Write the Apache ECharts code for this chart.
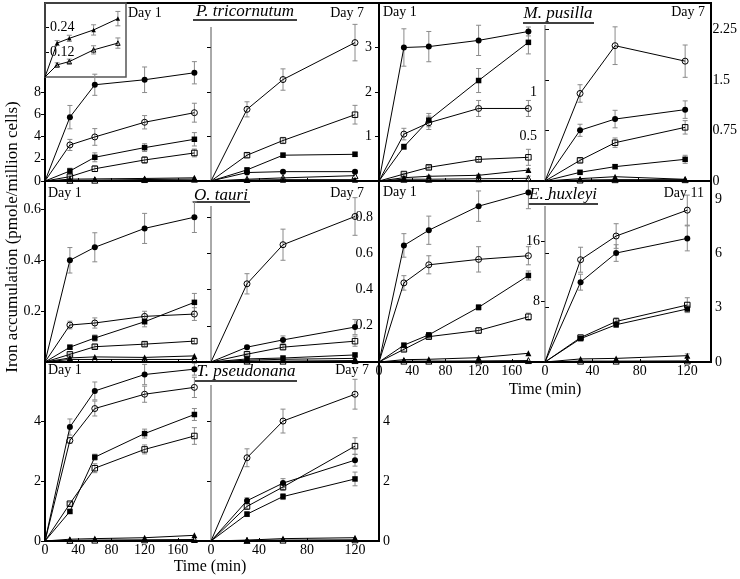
<!DOCTYPE html>
<html><head><meta charset="utf-8">
<script src="https://cdn.jsdelivr.net/npm/echarts@6/dist/echarts.min.js"></script>
<style>html,body{margin:0;padding:0;background:#fff}#c{width:740px;height:579px}</style>
</head><body><div id="c"></div>
<script>
// ---------------- DATA ----------------
const T_DAY1 = [0, 30, 60, 120, 180];   // min, Day 1 panels
const T_LATE = [0, 30, 60, 120];        // min, Day 7 / Day 11 panels

// P. tricornutum – Day 1
const PT1_FC = [0, 5.74, 8.65, 9.10, 9.73], PT1_FC_SD = [0, 1.05, 0.95, 1.15, 1.0];
const PT1_OC = [0, 3.24, 3.96, 5.28, 6.14], PT1_OC_SD = [0, 0.5, 0.75, 0.6, 0.85];
const PT1_FS = [0, 0.90, 2.13, 3.00, 3.75], PT1_FS_SD = [0, 0.25, 0.4, 0.35, 0.6];
const PT1_OS = [0, 0.39, 1.10, 1.89, 2.52], PT1_OS_SD = [0, 0.15, 0.25, 0.3, 0.35];
const PT1_FT = [0, 0.165, 0.188, 0.229, 0.284], PT1_FT_SD = [0, 0.012, 0.015, 0.025, 0.035];
const PT1_OT = [0, 0.059, 0.075, 0.132, 0.165], PT1_OT_SD = [0, 0.01, 0.012, 0.02, 0.025];
// P. tricornutum – Day 7
const PT7_OC = [0, 1.61, 2.28, 3.11], PT7_OC_SD = [0, 0.17, 0.24, 0.41];
const PT7_OS = [0, 0.58, 0.91, 1.49], PT7_OS_SD = [0, 0.05, 0.07, 0.21];
const PT7_FS = [0, 0.25, 0.58, 0.60], PT7_FS_SD = [0, 0.03, 0.05, 0.05];
const PT7_FC = [0, 0.19, 0.21, 0.21], PT7_FC_SD = [0, 0.02, 0.02, 0.03];
const PT7_OT = [0, 0.04, 0.07, 0.12], PT7_OT_SD = [0, 0, 0, 0];
const PT7_FT = [0, 0.02, 0.03, 0.03], PT7_FT_SD = [0, 0, 0, 0];

// M. pusilla – Day 1
const MP1_FC = [0, 1.50, 1.51, 1.58, 1.68], MP1_FC_SD = [0, 0.21, 0.17, 0.17, 0.05];
const MP1_FS = [0, 0.385, 0.684, 1.129, 1.558], MP1_FS_SD = [0, 0.03, 0.075, 0.135, 0.13];
const MP1_OC = [0, 0.527, 0.654, 0.815, 0.815], MP1_OC_SD = [0, 0.065, 0.075, 0.09, 0.09];
const MP1_OS = [0, 0.078, 0.153, 0.243, 0.266], MP1_OS_SD = [0, 0.01, 0.02, 0.03, 0.09];
const MP1_FT = [0, 0.037, 0.053, 0.064, 0.123], MP1_FT_SD = [0, 0.01, 0.01, 0.01, 0.015];
const MP1_OT = [0, 0.02, 0.02, 0.025, 0.03], MP1_OT_SD = [0, 0, 0, 0, 0];
// M. pusilla – Day 7
const MP7_OC = [0, 1.30, 2.01, 1.78], MP7_OC_SD = [0, 0.13, 0.28, 0.24];
const MP7_FC = [0, 0.753, 0.92, 1.06], MP7_FC_SD = [0, 0.09, 0.13, 0.13];
const MP7_OS = [0, 0.307, 0.569, 0.797], MP7_OS_SD = [0, 0.03, 0.07, 0.1];
const MP7_FS = [0, 0.129, 0.213, 0.322], MP7_FS_SD = [0, 0.02, 0.03, 0.06];
const MP7_FT = [0, 0.035, 0.064, 0.025], MP7_FT_SD = [0, 0, 0, 0];
const MP7_OT = [0, 0.015, 0.02, 0.02], MP7_OT_SD = [0, 0, 0, 0];

// O. tauri – Day 1
const OT1_FC = [0, 0.399, 0.45, 0.524, 0.568], OT1_FC_SD = [0, 0.05, 0.057, 0.059, 0.06];
const OT1_OC = [0, 0.145, 0.153, 0.179, 0.188], OT1_OC_SD = [0, 0.015, 0.02, 0.02, 0.025];
const OT1_FS = [0, 0.058, 0.094, 0.158, 0.234], OT1_FS_SD = [0, 0.008, 0.012, 0.02, 0.035];
const OT1_OS = [0, 0.03, 0.06, 0.07, 0.082], OT1_OS_SD = [0, 0.005, 0.008, 0.008, 0.01];
const OT1_FT = [0, 0.016, 0.02, 0.018, 0.024], OT1_FT_SD = [0, 0, 0, 0, 0];
const OT1_OT = [0, 0.01, 0.01, 0.01, 0.01], OT1_OT_SD = [0, 0, 0, 0, 0];
// O. tauri – Day 7
const OT7_OC = [0, 0.432, 0.648, 0.804], OT7_OC_SD = [0, 0.056, 0.086, 0.104];
const OT7_FC = [0, 0.082, 0.122, 0.193], OT7_FC_SD = [0, 0.01, 0.022, 0.042];
const OT7_OS = [0, 0.043, 0.082, 0.115], OT7_OS_SD = [0, 0.006, 0.012, 0.028];
const OT7_FS = [0, 0.017, 0.022, 0.039], OT7_FS_SD = [0, 0.003, 0.004, 0.01];
const OT7_FT = [0, 0.01, 0.015, 0.02], OT7_FT_SD = [0, 0, 0, 0];
const OT7_OT = [0, 0.005, 0.005, 0.008], OT7_OT_SD = [0, 0, 0, 0];

// E. huxleyi – Day 1
const EH1_FC = [0, 0.644, 0.728, 0.861, 0.937], EH1_FC_SD = [0, 0.065, 0.078, 0.084, 0.09];
const EH1_OC = [0, 0.437, 0.537, 0.567, 0.587], EH1_OC_SD = [0, 0.04, 0.05, 0.07, 0.05];
const EH1_FS = [0, 0.093, 0.15, 0.302, 0.478], EH1_FS_SD = [0, 0.01, 0.01, 0.015, 0.025];
const EH1_OS = [0, 0.07, 0.14, 0.174, 0.25], EH1_OS_SD = [0, 0.01, 0.01, 0.015, 0.02];
const EH1_FT = [0, 0.013, 0.015, 0.024, 0.048], EH1_FT_SD = [0, 0, 0, 0, 0];
const EH1_OT = [0, 0.005, 0.005, 0.006, 0.008], EH1_OT_SD = [0, 0, 0, 0, 0];
// E. huxleyi – Day 11
const EH11_OC = [0, 5.65, 6.96, 8.39], EH11_OC_SD = [0, 0.69, 0.68, 0.83];
const EH11_FC = [0, 4.41, 6.02, 6.83], EH11_FC_SD = [0, 0.44, 0.46, 0.69];
const EH11_OS = [0, 1.35, 2.24, 3.15], EH11_OS_SD = [0, 0.1, 0.2, 0.4];
const EH11_FS = [0, 1.29, 2.06, 2.93], EH11_FS_SD = [0, 0.1, 0.15, 0.2];
const EH11_FT = [0, 0.17, 0.2, 0.35], EH11_FT_SD = [0, 0, 0, 0.1];
const EH11_OT = [0, 0.05, 0.05, 0.06], EH11_OT_SD = [0, 0, 0, 0];

// T. pseudonana – Day 1
const TP1_FC = [0, 3.82, 5.03, 5.58, 5.76], TP1_FC_SD = [0, 0.27, 0.3, 0.34, 0.2];
const TP1_OC = [0, 3.37, 4.44, 4.92, 5.15], TP1_OC_SD = [0, 0.1, 0.25, 0.27, 0.34];
const TP1_FS = [0, 0.99, 2.81, 3.60, 4.24], TP1_FS_SD = [0, 0.05, 0.1, 0.15, 0.2];
const TP1_OS = [0, 1.25, 2.44, 3.07, 3.52], TP1_OS_SD = [0, 0.05, 0.15, 0.15, 0.28];
const TP1_FT = [0, 0.06, 0.08, 0.11, 0.19], TP1_FT_SD = [0, 0, 0, 0, 0];
const TP1_OT = [0, 0.02, 0.03, 0.04, 0.05], TP1_OT_SD = [0, 0, 0, 0, 0];
// T. pseudonana – Day 7
const TP7_OC = [0, 2.79, 4.02, 4.92], TP7_OC_SD = [0, 0.3, 0.4, 0.5];
const TP7_OS = [0, 1.16, 1.81, 3.18], TP7_OS_SD = [0, 0.1, 0.12, 0.28];
const TP7_FC = [0, 1.35, 1.94, 2.71], TP7_FC_SD = [0, 0.1, 0.15, 0.2];
const TP7_FS = [0, 0.90, 1.49, 2.08], TP7_FS_SD = [0, 0.08, 0.1, 0.23];
const TP7_FT = [0, 0.03, 0.08, 0.11], TP7_FT_SD = [0, 0, 0, 0];
const TP7_OT = [0, 0.02, 0.03, 0.04], TP7_OT_SD = [0, 0, 0, 0];

// Tick labels
const A1_Y_TICKS = [0, 2, 4, 6, 8];
const INSET_Y_TICKS = [0.12, 0.24];
const A7_Y_TICKS = [1, 2, 3];
const B1_Y_TICKS = [0.5, 1];
const B1_Y_MARKS = [0.5, 1, 1.5];
const B7_Y_TICKS = [0, 0.75, 1.5, 2.25];
const C1_Y_TICKS = [0.2, 0.4, 0.6];
const C7_Y_TICKS = [0.2, 0.4, 0.6, 0.8];
const E1_Y_TICKS = [8, 16];
const E11_Y_TICKS = [0, 3, 6, 9];
const D1_Y_TICKS = [0, 2, 4];
const D7_Y_TICKS = [0, 2, 4];
const X_TICKS_DAY1 = [0, 40, 80, 120, 160];
const X_TICKS_LATE = [0, 40, 80, 120];

const SPECIES = ['P. tricornutum', 'M. pusilla', 'O. tauri', 'E. huxleyi', 'T. pseudonana'];
const Y_TITLE = 'Iron accumulation (pmole/million cells)';
const X_TITLE = 'Time (min)';

// ---------------- LAYOUT ----------------
const FONT = 'Liberation Serif';
const X0 = 45, XA = 211, XM = 379, XB = 545, XR = 711;
const Y0 = 3, Y1 = 181, Y2 = 362, Y3 = 541;

const S = (k, v, e) => ({k, v, e});
const PANELS = [
  {box:[X0,Y0,XA,Y1], t:T_DAY1, xMax:200, yMax:16,
   y:{pos:'left', inside:false, labels:A1_Y_TICKS, marks:A1_Y_TICKS, margin:4, tickIn:false},
   s:[S('FC',PT1_FC,PT1_FC_SD),S('OC',PT1_OC,PT1_OC_SD),S('FS',PT1_FS,PT1_FS_SD),S('OS',PT1_OS,PT1_OS_SD),S('FT',PT1_FT,null),S('OT',PT1_OT,null)]},
  {box:[XA,Y0,XM,Y1], t:T_LATE, xMax:140, yMax:4,
   y:{pos:'right', inside:true, labels:A7_Y_TICKS, marks:A7_Y_TICKS, margin:7, tickIn:true},
   s:[S('OC',PT7_OC,PT7_OC_SD),S('OS',PT7_OS,PT7_OS_SD),S('FS',PT7_FS,PT7_FS_SD),S('FC',PT7_FC,PT7_FC_SD),S('OT',PT7_OT,PT7_OT_SD),S('FT',PT7_FT,PT7_FT_SD)]},
  {box:[XM,Y0,XB,Y1], t:T_DAY1, xMax:200, yMax:2,
   y:{pos:'right', inside:true, labels:B1_Y_TICKS, marks:B1_Y_MARKS, margin:8, tickIn:true},
   s:[S('FC',MP1_FC,MP1_FC_SD),S('FS',MP1_FS,MP1_FS_SD),S('OC',MP1_OC,MP1_OC_SD),S('OS',MP1_OS,MP1_OS_SD),S('FT',MP1_FT,MP1_FT_SD),S('OT',MP1_OT,MP1_OT_SD)]},
  {box:[XB,Y0,XR,Y1], t:T_LATE, xMax:140, yMax:2.644,
   y:{pos:'right', inside:false, labels:B7_Y_TICKS, marks:B7_Y_TICKS, margin:4, tickIn:false},
   s:[S('OC',MP7_OC,MP7_OC_SD),S('FC',MP7_FC,MP7_FC_SD),S('OS',MP7_OS,MP7_OS_SD),S('FS',MP7_FS,MP7_FS_SD),S('FT',MP7_FT,MP7_FT_SD),S('OT',MP7_OT,MP7_OT_SD)]},
  {box:[X0,Y1,XA,Y2], t:T_DAY1, xMax:200, yMax:0.71,
   y:{pos:'left', inside:false, labels:C1_Y_TICKS, marks:C1_Y_TICKS, margin:4, tickIn:false},
   s:[S('FC',OT1_FC,OT1_FC_SD),S('OC',OT1_OC,OT1_OC_SD),S('FS',OT1_FS,OT1_FS_SD),S('OS',OT1_OS,OT1_OS_SD),S('FT',OT1_FT,OT1_FT_SD),S('OT',OT1_OT,OT1_OT_SD)]},
  {box:[XA,Y1,XM,Y2], t:T_LATE, xMax:140, yMax:1.0,
   y:{pos:'right', inside:true, labels:C7_Y_TICKS, marks:C7_Y_TICKS, margin:6, tickIn:true},
   s:[S('OC',OT7_OC,OT7_OC_SD),S('FC',OT7_FC,OT7_FC_SD),S('OS',OT7_OS,OT7_OS_SD),S('FS',OT7_FS,OT7_FS_SD),S('FT',OT7_FT,OT7_FT_SD),S('OT',OT7_OT,OT7_OT_SD)]},
  {box:[XM,Y1,XB,Y2], t:T_DAY1, xMax:200, yMax:1.0, xLabels:X_TICKS_DAY1,
   y:null, extraY:{max:24, labels:E1_Y_TICKS, marks:E1_Y_TICKS, margin:5},
   s:[S('FC',EH1_FC,EH1_FC_SD),S('OC',EH1_OC,EH1_OC_SD),S('FS',EH1_FS,EH1_FS_SD),S('OS',EH1_OS,EH1_OS_SD),S('FT',EH1_FT,EH1_FT_SD),S('OT',EH1_OT,EH1_OT_SD)]},
  {box:[XB,Y1,XR,Y2], t:T_LATE, xMax:140, yMax:10, xLabels:X_TICKS_LATE,
   y:{pos:'right', inside:false, labels:E11_Y_TICKS, marks:E11_Y_TICKS, margin:4, tickIn:false},
   s:[S('OC',EH11_OC,EH11_OC_SD),S('FC',EH11_FC,EH11_FC_SD),S('OS',EH11_OS,EH11_OS_SD),S('FS',EH11_FS,EH11_FS_SD),S('FT',EH11_FT,EH11_FT_SD),S('OT',EH11_OT,EH11_OT_SD)]},
  {box:[X0,Y2,XA,Y3], t:T_DAY1, xMax:200, yMax:6, xLabels:X_TICKS_DAY1,
   y:{pos:'left', inside:false, labels:D1_Y_TICKS, marks:D1_Y_TICKS, margin:4, tickIn:false},
   s:[S('FC',TP1_FC,TP1_FC_SD),S('OC',TP1_OC,TP1_OC_SD),S('FS',TP1_FS,TP1_FS_SD),S('OS',TP1_OS,TP1_OS_SD),S('FT',TP1_FT,TP1_FT_SD),S('OT',TP1_OT,TP1_OT_SD)]},
  {box:[XA,Y2,XM,Y3], t:T_LATE, xMax:140, yMax:6, xLabels:X_TICKS_LATE,
   y:{pos:'right', inside:false, labels:D7_Y_TICKS, marks:D7_Y_TICKS, margin:4, tickIn:true},
   s:[S('OC',TP7_OC,TP7_OC_SD),S('OS',TP7_OS,TP7_OS_SD),S('FC',TP7_FC,TP7_FC_SD),S('FS',TP7_FS,TP7_FS_SD),S('FT',TP7_FT,TP7_FT_SD),S('OT',TP7_OT,TP7_OT_SD)]},
  // inset of P. tricornutum Day 1 (triangle series enlarged)
  {box:[X0,Y0,126,77], t:T_DAY1, xMax:200, yMax:0.36, small:true, noXTicks:true,
   y:{pos:'left', inside:true, labels:INSET_Y_TICKS, marks:INSET_Y_TICKS, margin:5, tickIn:true},
   s:[S('FT',PT1_FT,PT1_FT_SD),S('OT',PT1_OT,PT1_OT_SD)]}
];

const MARK = {
  FC:{symbol:'circle', size:6, fill:true}, OC:{symbol:'circle', size:6, fill:false},
  FS:{symbol:'rect', size:5.5, fill:true}, OS:{symbol:'rect', size:5.5, fill:false},
  FT:{symbol:'triangle', size:6, fill:true}, OT:{symbol:'triangle', size:6, fill:false}
};

const near = (arr, v) => arr.some(a => Math.abs(a - v) < 1e-6);
const grids = [], xAxes = [], yAxes = [], series = [];

PANELS.forEach((p, g) => {
  const [l, t, r, b] = p.box;
  grids.push({left:l, top:t, width:r - l, height:b - t, containLabel:false});
  xAxes.push({
    type:'value', gridIndex:g, min:0, max:p.xMax, interval:40,
    axisLine:{show:false}, splitLine:{show:false},
    axisTick:{show:!p.noXTicks, inside:true, length:3, customValues:[40,80,120,160].filter(v=>v<p.xMax), lineStyle:{color:'#000'}},
    axisLabel:{show:!!p.xLabels, margin:2, color:'#000', fontSize:14, fontFamily:FONT,
      customValues:p.xLabels || [], formatter:v => (p.xLabels && near(p.xLabels, v)) ? String(v) : ''}
  });
  const y = p.y;
  yAxes.push({
    type:'value', gridIndex:g, min:0, max:p.yMax, position: y ? y.pos : 'left',
    axisLine:{show:false}, splitLine:{show:false},
    axisTick:{show:!!y, inside: y ? y.tickIn : false, length:4, customValues: y ? y.marks : [], lineStyle:{color:'#000'}},
    axisLabel:{show:!!y, inside: y ? y.inside : false, margin: y ? y.margin : 4, color:'#000',
      fontSize:14, fontFamily:FONT, customValues: y ? y.labels : [],
      formatter:v => (y && near(y.labels, v)) ? String(v) : ''}
  });
  p.yIndex = g;
});

// extra inner label axis (E. huxleyi Day 1, right side)
PANELS.forEach((p, g) => {
  if (!p.extraY) return;
  const e = p.extraY;
  yAxes.push({
    type:'value', gridIndex:g, min:0, max:e.max, interval:8, position:'right',
    axisLine:{show:false}, splitLine:{show:false},
    axisTick:{show:true, inside:true, length:4, customValues:e.marks, lineStyle:{color:'#000'}},
    axisLabel:{show:true, inside:true, margin:e.margin, color:'#000', fontSize:14, fontFamily:FONT,
      customValues:e.labels, formatter:v => near(e.labels, v) ? String(v) : ''}
  });
});

function errRender(params, api) {
  const x = api.value(0), v = api.value(1), e = api.value(2);
  const a = api.coord([x, v + e]), b = api.coord([x, v - e]);
  const c = 2.5, st = {stroke:'#8a8a8a', lineWidth:1};
  return {type:'group', children:[
    {type:'line', shape:{x1:a[0], y1:a[1], x2:b[0], y2:b[1]}, style:st},
    {type:'line', shape:{x1:a[0]-c, y1:a[1], x2:a[0]+c, y2:a[1]}, style:st},
    {type:'line', shape:{x1:b[0]-c, y1:b[1], x2:b[0]+c, y2:b[1]}, style:st}
  ]};
}

PANELS.forEach((p, g) => {
  p.s.forEach(sr => {
    const m = MARK[sr.k];
    const size = p.small ? m.size * 0.75 : m.size;
    series.push({
      type:'line', xAxisIndex:g, yAxisIndex:p.yIndex, silent:true, animation:false, clip:false, z:3,
      symbol:m.symbol, symbolSize:size, showAllSymbol:true,
      data:p.t.map((tt, i) => i === 0 ? {value:[tt, sr.v[i]], symbol:'none'} : [tt, sr.v[i]]),
      itemStyle:{color: m.fill ? '#000' : 'rgba(255,255,255,0)', borderColor:'#000', borderWidth: m.fill ? 0 : 1},
      lineStyle:{color:'#000', width:1}
    });
    if (sr.e) {
      const d = p.t.map((tt, i) => [tt, sr.v[i], sr.e[i]]).filter(r => r[2] > 0);
      series.push({type:'custom', xAxisIndex:g, yAxisIndex:p.yIndex, silent:true, animation:false, z:2,
        renderItem:errRender, data:d});
    }
  });
});

// ---------------- FRAME & TEXT ----------------
const gr = [];
const line = (x1, y1, x2, y2, w, col) => gr.push({type:'line', z:1, silent:true,
  shape:{x1, y1, x2, y2}, style:{stroke:col || '#000', lineWidth:w}});
line(X0-1, Y0, XR+1, Y0, 2); line(X0-1, Y1, XR+1, Y1, 2); line(X0-1, Y2, XR+1, Y2, 2);
line(X0-1, Y3, XM+1, Y3, 2);
line(X0, Y0-1, X0, Y3+1, 2); line(XM, Y0-1, XM, Y3+1, 2); line(XR, Y0-1, XR, Y2+1, 2);
line(XA, 27, XA, Y1, 1, '#555'); line(XA, 206, XA, Y2, 1, '#555'); line(XA, 385, XA, Y3, 1, '#555');
line(XB, 25, XB, Y1, 1, '#555'); line(XB, 206, XB, Y2, 1, '#555');
gr.push({type:'rect', z:1, silent:true, shape:{x:X0, y:Y0, width:126-X0, height:77-Y0},
  style:{fill:null, stroke:'#555', lineWidth:1.5}});

const txt = (text, x, y, opts) => gr.push(Object.assign({type:'text', z:5, silent:true, x, y,
  style:Object.assign({text, fill:'#000', font:'14px "' + FONT + '"', textAlign:'left',
    textVerticalAlign:'middle', verticalAlign:'middle'}, opts && opts.style)}, opts && opts.el));

const TITLE_POS = [[245, 12, 20, 193, 297], [558, 13.5, 23, 523, 594], [221, 195.5, 202, 193, 250],
                   [563, 194.5, 204, 528, 598], [246, 372, 381, 195, 297]];
SPECIES.forEach((s, i) => {
  const [cx, cy, uy, u1, u2] = TITLE_POS[i];
  txt(s, cx, cy, {style:{font:'italic 17px "' + FONT + '"', textAlign:'center'}});
  line(u1, uy, u2, uy, 1.5);
});

const DAY_LABELS = [['Day 1', 128, 13, 'left'], ['Day 7', 364, 13, 'right'], ['Day 1', 383, 12, 'left'],
  ['Day 7', 705, 12, 'right'], ['Day 1', 48, 193, 'left'], ['Day 7', 364, 193, 'right'],
  ['Day 1', 383, 192, 'left'], ['Day 11', 704, 193, 'right'], ['Day 1', 48, 370.5, 'left'],
  ['Day 7', 369, 370, 'right']];
DAY_LABELS.forEach(([s, x, y, a]) => txt(s, x, y, {style:{textAlign:a}}));

txt(X_TITLE, 210, 567, {style:{font:'16px "' + FONT + '"', textAlign:'center'}});
txt(X_TITLE, 545, 390, {style:{font:'16px "' + FONT + '"', textAlign:'center'}});
txt(Y_TITLE, 13, 237, {el:{rotation:Math.PI / 2}, style:{font:'17px "' + FONT + '"', textAlign:'center'}});

const chart = echarts.init(document.getElementById('c'), null, {renderer:'canvas'});
chart.setOption({
  animation:false, backgroundColor:'#fff',
  textStyle:{fontFamily:FONT},
  grid:grids, xAxis:xAxes, yAxis:yAxes, series:series, graphic:gr
});
</script></body></html>
